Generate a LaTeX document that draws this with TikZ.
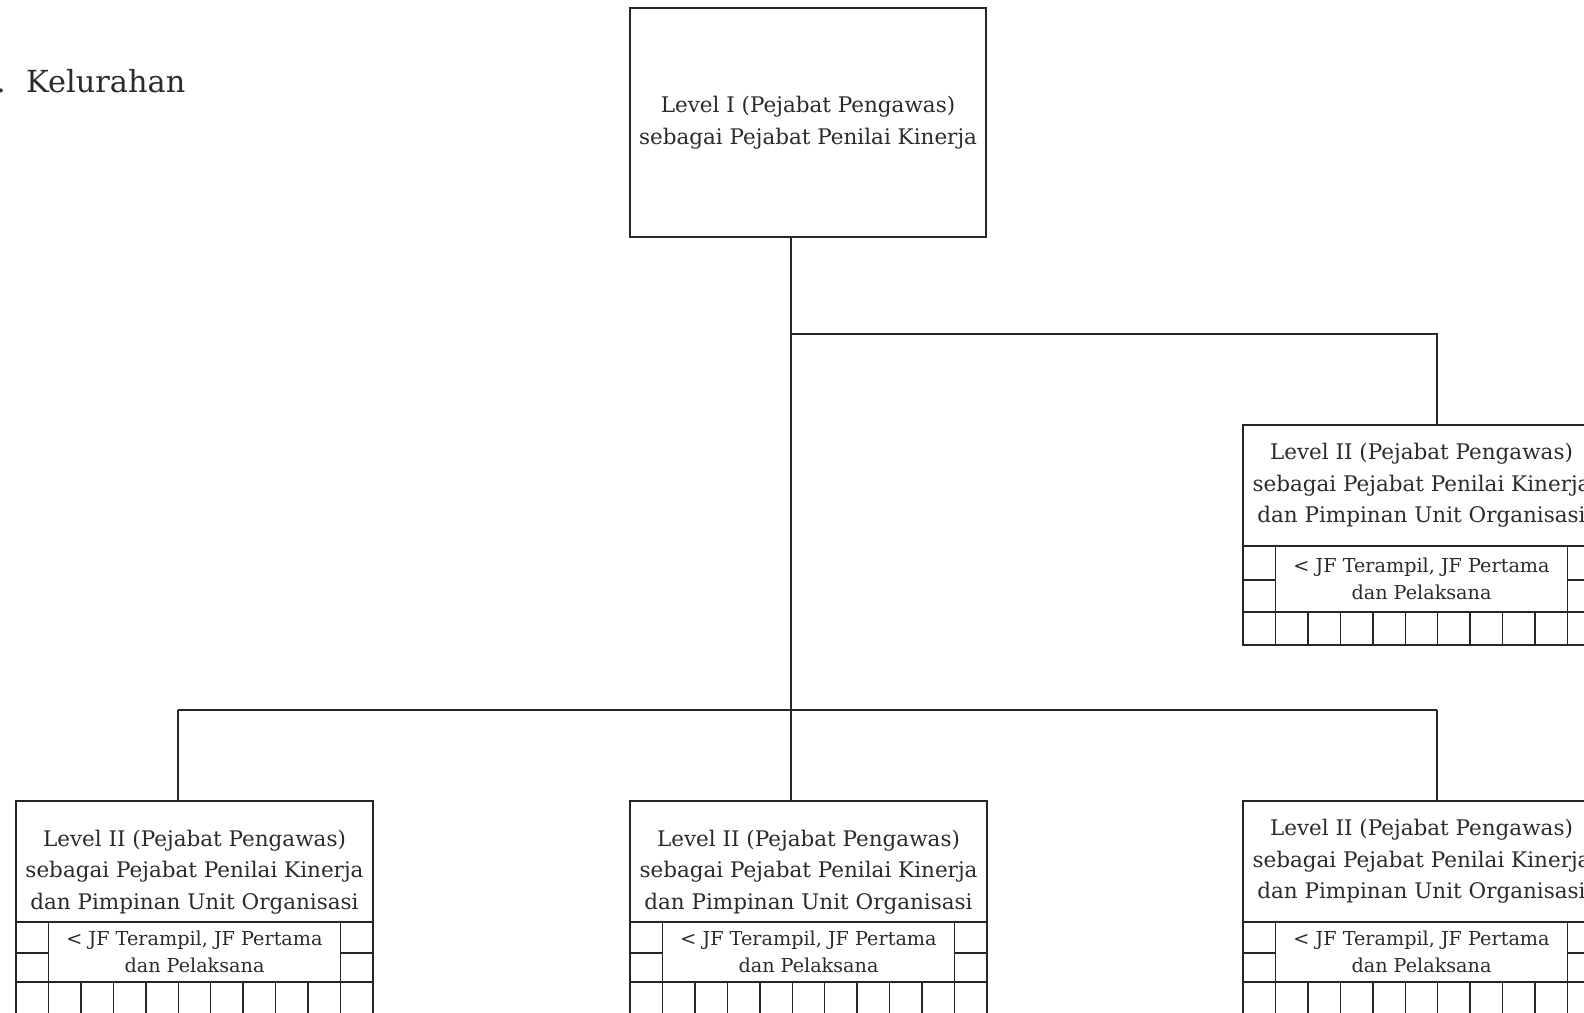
\documentclass[tikz,border=0pt]{standalone}
\usepackage{fontspec}
\setmainfont{DejaVu Serif}
\definecolor{inkline}{HTML}{262626}
\definecolor{inktext}{HTML}{2B2B2B}

% One organisational unit: heading frame, the JF band with its side cells, and the row of small cells
% #1 name, #2 x, #3 y (top-left corner), #4 band height, #5 side-cell split, #6 text shift
\newcommand{\unitbox}[6]{%
  \node[frame] (#1) at (#2,#3) {};
  \node[headtext] (#1txt) at ([yshift=#6]#1.center)
    {Level II (Pejabat Pengawas)\\sebagai Pejabat Penilai Kinerja\\dan Pimpinan Unit Organisasi};
  \begin{scope}[shift={(#1.south west)}]
    \draw[line] (0,0) rectangle (357,#4);
    \draw[line] (0,#4) rectangle (357,#4+33);
    \draw[line] (32.45,0) -- (32.45,#4) (324.55,0) -- (324.55,#4);
    \draw[line] (0,#5) -- (32.45,#5) (324.55,#5) -- (357,#5);
    \foreach \k in {1,...,10} \draw[line] (\k*32.45,#4) -- (\k*32.45,#4+33);
    \node[jftext] (#1jf) at (178.5,#4/2) {< JF Terampil, JF Pertama\\dan Pelaksana};
  \end{scope}%
}

\begin{document}
\begin{tikzpicture}[x=1pt,y=-1pt,
  line/.style={draw=inkline, line width=1.5pt},
  frame/.style={line, rectangle, inner sep=0pt, outer sep=0pt,
    minimum width=357pt, minimum height=121pt, anchor=north west},
  headtext/.style={text=inktext, align=center, inner sep=0pt,
    font=\fontsize{21.5}{31.5}\selectfont},
  jftext/.style={text=inktext, align=center, inner sep=0pt,
    font=\fontsize{19.2}{27}\selectfont},
  titletext/.style={text=inktext, inner sep=0pt, anchor=base west,
    font=\fontsize{30.4}{36}\selectfont}]
\useasboundingbox (0,0) rectangle (1584,1012);
\clip (0,0) rectangle (1584,1012);

% heading
\node[titletext] (titlenum) at (-4,92) {.};
\node[titletext] (title) at (26,92) {Kelurahan};

% level I
\node[frame, minimum width=356pt, minimum height=229pt] (top) at (630,8) {};
\node[headtext] (toptxt) at (top.center)
  {Level I (Pejabat Pengawas)\\sebagai Pejabat Penilai Kinerja};

% level II units
\unitbox{right}{1243}{425}{66}{34}{0pt}
\unitbox{bleft}{16}{801}{60}{31}{-10.5pt}
\unitbox{bmid}{630}{801}{60}{31}{-10.5pt}
\unitbox{bright}{1243}{801}{60}{31}{0pt}

% connector positions
\coordinate (trunkx) at (791,0);
\coordinate (leftx) at (178,0);
\coordinate (rightx) at (1437,0);
\coordinate (upy) at (0,334);
\coordinate (lowy) at (0,710);

\draw[line] (top.south -| trunkx) -- (bmid.north -| trunkx);
\draw[line] (trunkx |- upy) -| (right.north -| rightx);
\draw[line] (leftx |- lowy) -- (rightx |- lowy);
\draw[line] (leftx |- lowy) -- (bleft.north -| leftx);
\draw[line] (rightx |- lowy) -- (bright.north -| rightx);
\end{tikzpicture}
\end{document}
